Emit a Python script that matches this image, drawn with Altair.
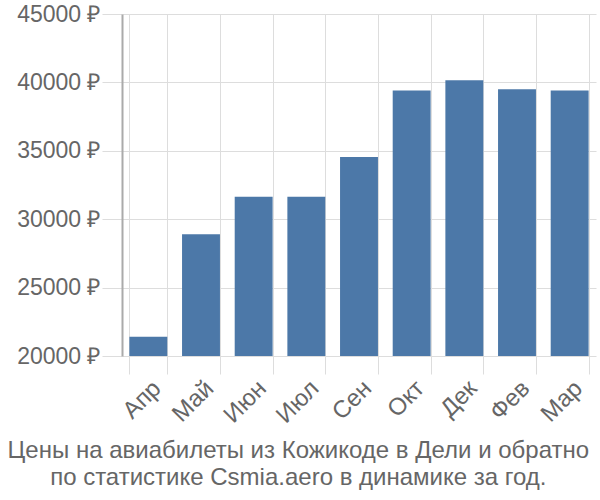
import altair as alt
import pandas as pd

months = ["Апр", "Май", "Июн", "Июл", "Сен", "Окт", "Дек", "Фев", "Мар"]
prices = [21400, 28900, 31650, 31650, 34550, 39400, 40150, 39500, 39400]
y_ticks = [20000, 25000, 30000, 35000, 40000, 45000]
baseline = 20000
title_lines = ["Цены на авиабилеты из Кожикоде в Дели и обратно",
               "по статистике Csmia.aero в динамике за год."]

df = pd.DataFrame({"month": months, "price": prices})

font = "Liberation Sans"

chart = alt.Chart(df).mark_bar(color="#4c78a8", clip=True).encode(
    x=alt.X("month:N", sort=months, title=None,
            scale=alt.Scale(paddingInner=0.28, paddingOuter=0.14),
            axis=alt.Axis(labelAngle=-45, labelFontSize=24, labelColor="#666666",
                          labelFont=font, tickSize=18, tickColor="#dddddd",
                          tickBand="extent", grid=True, gridColor="#dddddd",
                          domain=False, labelPadding=2)),
    y=alt.Y("price:Q", title=None,
            scale=alt.Scale(domain=[20000, 45000], zero=False, nice=False),
            axis=alt.Axis(values=y_ticks, labelExpr="datum.value + ' ₽'",
                          labelFontSize=23, labelColor="#666666", labelFont=font,
                          tickSize=20, tickColor="#dddddd", gridColor="#dddddd",
                          domainColor="#aaaaaa", domainWidth=2, labelPadding=2)),
    y2=alt.datum(baseline),
).properties(
    width=474, height=342,
    autosize=alt.AutoSizeParams(type="none"),
    title=alt.TitleParams(text=title_lines, orient="bottom", anchor="middle",
                          fontSize=24, color="#666666", font=font,
                          fontWeight="normal", frame="bounds", offset=12,
                          dx=-8, lineHeight=27),
    padding={"left": 122, "top": 14, "right": 4, "bottom": 144},
).configure_view(stroke=None)

chart.save("out.html", embed_options={"renderer": "svg", "actions": False})
